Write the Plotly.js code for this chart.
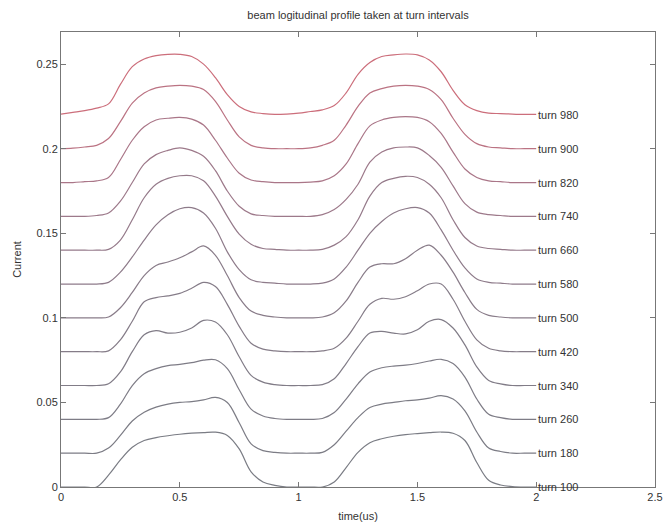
<!DOCTYPE html>
<html>
<head>
<meta charset="utf-8">
<script src="https://cdn.plot.ly/plotly-3.0.1.min.js"></script>
<style>html,body{margin:0;padding:0;background:#fff;}#chart{width:663px;height:522px;}</style>
</head>
<body>
<div id="chart"></div>
<script>
// time axis (us)
const timeUs = [0,0.05,0.1,0.15,0.2,0.25,0.3,0.35,0.4,0.45,0.5,0.55,0.6,0.65,0.7,0.75,0.8,0.85,0.9,0.95,1.0,
  1.05,1.1,1.15,1.2,1.25,1.3,1.35,1.4,1.45,1.5,1.55,1.6,1.65,1.7,1.75,1.8,1.85,1.9,1.95,2.0];

// turn numbers and vertical offsets of each profile
const turns = [100,180,260,340,420,500,580,660,740,820,900,980];
const offsets = [0,0.02,0.04,0.06,0.08,0.10,0.12,0.14,0.16,0.18,0.20,0.22];

// beam current profiles (relative to their offset)
const turn100 = [0,0,0,0,0.007,0.016,0.0235,0.0275,0.0292,0.0303,0.0312,0.0318,0.0322,0.0324,0.0305,0.0225,0.009,0.003,0.001,0,0,
  0,0,0.003,0.0115,0.0205,0.0262,0.0285,0.030,0.031,0.0316,0.0321,0.0325,0.0318,0.0275,0.0145,0.004,0.0012,0.0003,0,0];
const turn180 = [0,0,0,0,0.003,0.0105,0.019,0.0242,0.0272,0.029,0.030,0.0305,0.0315,0.033,0.030,0.018,0.0055,0.0015,0.0005,0,0,
  0,0.0005,0.005,0.013,0.021,0.027,0.029,0.030,0.031,0.0315,0.0325,0.034,0.032,0.025,0.0125,0.003,0.001,0,0,0];
const turn260 = [0,0,0,0,0.001,0.009,0.020,0.027,0.030,0.0318,0.0325,0.0335,0.035,0.0352,0.030,0.0175,0.006,0.002,0.0005,0,0,
  0,0.0005,0.004,0.012,0.021,0.028,0.0305,0.0315,0.032,0.033,0.0345,0.0355,0.033,0.025,0.012,0.003,0.001,0,0,0];
const turn340 = [0,0,0,0,0.001,0.008,0.020,0.030,0.0325,0.031,0.0315,0.034,0.0385,0.0375,0.030,0.017,0.006,0.002,0.0005,0,0,
  0,0.0005,0.004,0.013,0.023,0.031,0.032,0.031,0.0305,0.033,0.038,0.039,0.034,0.024,0.011,0.003,0.001,0,0,0];
const turn420 = [0,0,0,0,0.0005,0.007,0.018,0.0295,0.032,0.033,0.0345,0.0375,0.041,0.0385,0.028,0.015,0.005,0.0015,0.0005,0,0,
  0,0.0005,0.002,0.008,0.018,0.028,0.0315,0.031,0.0325,0.036,0.040,0.040,0.031,0.018,0.007,0.002,0.0005,0,0,0];
const turn500 = [0,0,0,0,0.0005,0.006,0.015,0.025,0.031,0.033,0.0355,0.039,0.0425,0.037,0.025,0.012,0.004,0.0015,0.0005,0,0,
  0,0.0005,0.003,0.010,0.021,0.030,0.032,0.032,0.035,0.040,0.043,0.037,0.027,0.015,0.005,0.0015,0.0005,0,0,0];
const turn580 = [0,0,0,0,0.001,0.007,0.016,0.026,0.035,0.041,0.0445,0.0452,0.042,0.033,0.019,0.0085,0.0025,0.001,0.0005,0,0,
  0,0.0005,0.003,0.010,0.020,0.030,0.037,0.042,0.0445,0.0452,0.042,0.032,0.020,0.0095,0.003,0.001,0.0005,0,0,0];
const turn660 = [0,0,0,0,0.0005,0.006,0.018,0.031,0.039,0.0425,0.044,0.044,0.041,0.032,0.020,0.0095,0.0035,0.001,0.0005,0,0,
  0,0.0005,0.003,0.008,0.018,0.032,0.040,0.0425,0.0437,0.043,0.039,0.031,0.018,0.0075,0.0025,0.001,0.0005,0,0,0];
const turn740 = [0,0,0,0.0005,0.002,0.009,0.020,0.031,0.0365,0.039,0.0405,0.039,0.0355,0.027,0.015,0.006,0.0015,0.0005,0,0,0,
  0,0.001,0.004,0.010,0.019,0.032,0.038,0.0405,0.041,0.0405,0.036,0.029,0.018,0.0075,0.0025,0.001,0.0005,0,0,0];
const turn820 = [0,0,0.0005,0.001,0.003,0.0135,0.025,0.033,0.037,0.038,0.0385,0.0375,0.034,0.025,0.0145,0.0055,0.0015,0.0005,0,0,0,
  0.0003,0.001,0.004,0.011,0.023,0.0335,0.037,0.0385,0.039,0.0385,0.036,0.029,0.018,0.008,0.003,0.001,0.0005,0,0,0];
const turn900 = [0,0.0003,0.001,0.002,0.006,0.016,0.027,0.033,0.036,0.037,0.0375,0.037,0.035,0.028,0.017,0.007,0.002,0.0005,0,0,0,
  0.0005,0.002,0.005,0.014,0.025,0.033,0.0355,0.037,0.0375,0.037,0.035,0.029,0.018,0.0085,0.003,0.001,0.0005,0,0,0];
const turn980 = [0.0005,0.0015,0.0025,0.004,0.0065,0.018,0.0285,0.033,0.035,0.0358,0.0358,0.0345,0.030,0.022,0.012,0.005,0.0018,0.0008,0.0003,0.0005,0.001,
  0.002,0.003,0.0055,0.013,0.024,0.031,0.0345,0.0355,0.036,0.0355,0.0325,0.0255,0.0145,0.006,0.0025,0.001,0.0008,0.0005,0.0003,0.0003];

const profiles = [turn100,turn180,turn260,turn340,turn420,turn500,turn580,turn660,turn740,turn820,turn900,turn980];

const lineColors = ['#7a7c84','#7c7c85','#7e7c86','#817c87','#857c88','#897c89','#8e7b8a','#957a8a','#9d798a','#aa7688','#bb7383','#cc6e7b'];

const traces = profiles.map((p, i) => ({
  x: timeUs,
  y: p.map(v => v + offsets[i]),
  type: 'scatter',
  mode: 'lines',
  line: {color: lineColors[i], width: 1.2, shape: 'spline', smoothing: 1.0},
  name: 'turn ' + turns[i],
  hoverinfo: 'x+y+name'
}));

const annotations = turns.map((t, i) => ({
  x: 2.0, y: offsets[i], xref: 'x', yref: 'y',
  text: 'turn ' + t, showarrow: false,
  xanchor: 'left', yanchor: 'middle',
  font: {size: 11, color: '#333'}
}));

const axisCommon = {
  showgrid: false, zeroline: false, showline: true, linecolor: '#777', linewidth: 1,
  mirror: 'ticks', ticks: 'inside', ticklen: 5, tickcolor: '#777', tickwidth: 1,
  tickfont: {size: 11, color: '#333'}
};

const layout = {
  width: 663, height: 522,
  margin: {l: 61, r: 8, t: 32, b: 35},
  paper_bgcolor: '#fff', plot_bgcolor: '#fff',
  font: {family: 'Liberation Sans, Arial, sans-serif', color: '#333'},
  showlegend: false,
  title: {text: 'beam logitudinal profile taken at turn intervals', x: 0.5, xref: 'paper', y: 1 - 15/522, yanchor: 'middle', font: {size: 11, color: '#333'}},
  xaxis: Object.assign({}, axisCommon, {range: [0, 2.5], tickvals: [0,0.5,1,1.5,2,2.5], ticktext: ['0','0.5','1','1.5','2','2.5'],
    title: {text: 'time(us)', standoff: 10, font: {size: 11, color: '#333'}}}),
  yaxis: Object.assign({}, axisCommon, {range: [0, 0.269], tickvals: [0,0.05,0.1,0.15,0.2,0.25], ticktext: ['0','0.05','0.1','0.15','0.2','0.25'],
    title: {text: 'Current', standoff: 12, font: {size: 11, color: '#333'}}}),
  annotations: annotations
};

Plotly.newPlot('chart', traces, layout, {displayModeBar: false, staticPlot: true});
</script>
</body>
</html>
